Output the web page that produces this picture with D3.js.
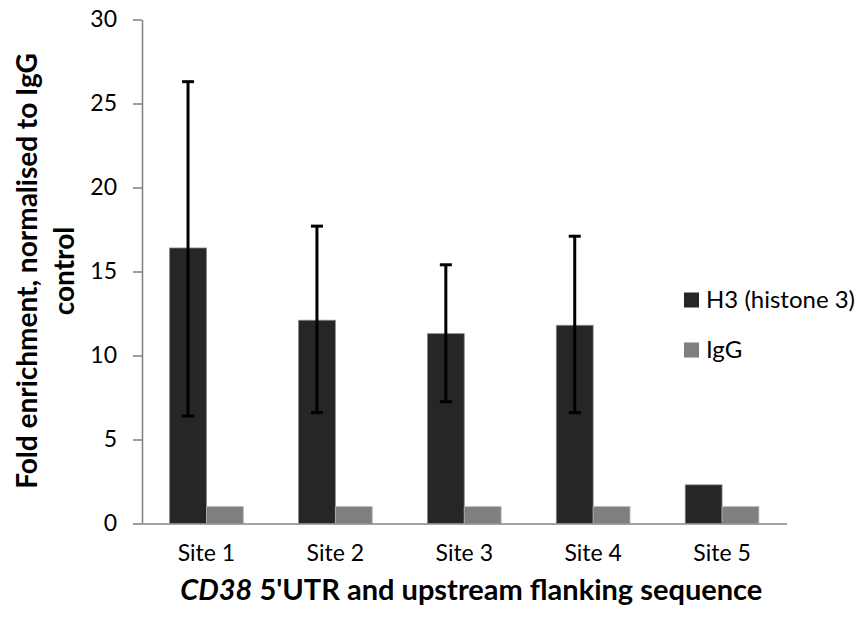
<!DOCTYPE html>
<html>
<head>
<meta charset="utf-8">
<script src="https://cdn.jsdelivr.net/npm/d3@7"></script>
<style>
  html, body { margin: 0; padding: 0; background: #fff; }
  svg { display: block; font-family: Lato, "Open Sans", sans-serif; }
</style>
</head>
<body>
<svg id="chart" width="861" height="618"></svg>
<script>
// Fold enrichment at five CD38 sites, H3 vs IgG control
const sites = ["Site 1", "Site 2", "Site 3", "Site 4", "Site 5"];
const seriesNames = ["H3 (histone 3)", "IgG"];
const h3Values = [16.4, 12.1, 11.3, 11.8, 2.3];
const iggValues = [1.0, 1.0, 1.0, 1.0, 1.0];
const h3ErrLow = [6.4, 6.6, 7.25, 6.6, null];
const h3ErrHigh = [26.3, 17.7, 15.4, 17.1, null];
const yTicks = [0, 5, 10, 15, 20, 25, 30];
const colors = ["#262626", "#7f7f7f"];

const svg = d3.select("#chart");
const plot = { left: 142, right: 786.5, top: 19.5, bottom: 523.5 };

const y = d3.scaleLinear().domain([0, 30]).range([plot.bottom, plot.top]);
const x = d3.scaleBand().domain(sites).range([plot.left, plot.right]).padding(0);
const xs = d3.scaleBand().domain(seriesNames).range([0, x.bandwidth()])
  .paddingInner(0).paddingOuter(0.75);

const rows = sites.map((s, i) => ({
  site: s,
  vals: [h3Values[i], iggValues[i]],
  lo: h3ErrLow[i],
  hi: h3ErrHigh[i]
}));

// Bars
const groups = svg.append("g").selectAll("g").data(rows).join("g")
  .attr("transform", d => `translate(${x(d.site)},0)`);

groups.selectAll("rect").data(d => d.vals.map((v, k) => ({ v, k })))
  .join("rect")
  .attr("x", d => xs(seriesNames[d.k]))
  .attr("width", xs.bandwidth())
  .attr("y", d => y(d.v))
  .attr("height", d => y(0) - y(d.v))
  .attr("fill", d => colors[d.k])
  .attr("stroke", d => d.k === 0 ? "#8a8a8a" : "#b0b0b0")
  .attr("stroke-width", 0.8);

// Error bars on H3
const eb = groups.filter(d => d.lo !== null).append("g")
  .attr("stroke", "#000").attr("stroke-width", 3);
const cx = xs(seriesNames[0]) + xs.bandwidth() / 2;
eb.append("line").attr("x1", cx).attr("x2", cx)
  .attr("y1", d => y(d.hi)).attr("y2", d => y(d.lo));
eb.append("line").attr("x1", cx - 6).attr("x2", cx + 6)
  .attr("y1", d => y(d.hi)).attr("y2", d => y(d.hi));
eb.append("line").attr("x1", cx - 6).attr("x2", cx + 6)
  .attr("y1", d => y(d.lo)).attr("y2", d => y(d.lo));

// Y axis
const yAxis = svg.append("g").attr("transform", `translate(${plot.left},0)`)
  .call(d3.axisLeft(y).tickValues(yTicks).tickSize(9).tickPadding(16).tickSizeOuter(0));
yAxis.select(".domain").attr("stroke", "#868686").attr("stroke-width", 1.6);
yAxis.selectAll(".tick line").attr("stroke", "#868686").attr("stroke-width", 1.6);
yAxis.selectAll(".tick text").attr("font-size", 23).attr("fill", "#000")
  .attr("font-family", "Lato, sans-serif");

// X axis
const xAxis = svg.append("g").attr("transform", `translate(0,${plot.bottom})`)
  .call(d3.axisBottom(x).tickSize(0).tickPadding(21));
xAxis.select(".domain").attr("stroke", "#868686").attr("stroke-width", 1.6);
xAxis.selectAll(".tick text").attr("font-size", 23).attr("fill", "#000")
  .attr("font-family", "Lato, sans-serif");

// X axis title
const xt = svg.append("text")
  .attr("x", (plot.left + plot.right) / 2 + 7)
  .attr("y", 600)
  .attr("text-anchor", "middle")
  .attr("font-size", 29)
  .attr("font-weight", "bold")
  .attr("fill", "#000");
xt.append("tspan").attr("font-style", "italic").text("CD38");
xt.append("tspan").text(" 5'UTR and upstream flanking sequence");

// Y axis title (two lines)
const yt = svg.append("text")
  .attr("transform", "translate(37,271) rotate(-90)")
  .attr("text-anchor", "middle")
  .attr("font-size", 28)
  .attr("font-weight", "bold")
  .attr("fill", "#000");
yt.append("tspan").attr("x", 0).attr("dy", 0).text("Fold enrichment, normalised to IgG");
yt.append("tspan").attr("x", 0).attr("dy", 37).text("control");

// Legend
const legend = svg.append("g").attr("transform", "translate(684,0)");
const legendY = [300, 350];
seriesNames.forEach((name, i) => {
  legend.append("rect").attr("x", 0).attr("y", legendY[i] - 7.5)
    .attr("width", 15).attr("height", 15).attr("fill", colors[i]);
  legend.append("text").attr("x", 22).attr("y", legendY[i])
    .attr("dy", "0.35em").attr("font-size", 24).attr("fill", "#000").text(name);
});
</script>
</body>
</html>
